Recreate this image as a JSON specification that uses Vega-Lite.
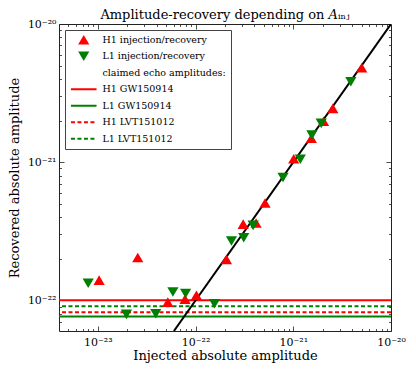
{
  "$schema": "https://vega.github.io/schema/vega-lite/v6.json",
  "width": 332,
  "height": 307,
  "autosize": {"type": "none"},
  "padding": {"left": 59, "top": 24, "right": 25, "bottom": 39},
  "title": {"text": "Amplitude-recovery depending on 𝐴ᵢₙⱼ", "font": "DejaVu Serif", "fontSize": 13, "fontWeight": "normal", "offset": 5, "dy": 9, "color": "#000"},
  "datasets": {
    "points": [
      {"series": "H1 injection/recovery", "inj": 1.03e-23, "rec": 1.40e-22},
      {"series": "H1 injection/recovery", "inj": 2.56e-23, "rec": 2.04e-22},
      {"series": "H1 injection/recovery", "inj": 5.2e-23, "rec": 9.7e-23},
      {"series": "H1 injection/recovery", "inj": 7.8e-23, "rec": 1.02e-22},
      {"series": "H1 injection/recovery", "inj": 1.02e-22, "rec": 1.09e-22},
      {"series": "H1 injection/recovery", "inj": 2.07e-22, "rec": 1.98e-22},
      {"series": "H1 injection/recovery", "inj": 3.07e-22, "rec": 3.56e-22},
      {"series": "H1 injection/recovery", "inj": 4.16e-22, "rec": 3.63e-22},
      {"series": "H1 injection/recovery", "inj": 5.14e-22, "rec": 5.07e-22},
      {"series": "H1 injection/recovery", "inj": 1.01e-21, "rec": 1.06e-21},
      {"series": "H1 injection/recovery", "inj": 1.53e-21, "rec": 1.49e-21},
      {"series": "H1 injection/recovery", "inj": 2.04e-21, "rec": 1.98e-21},
      {"series": "H1 injection/recovery", "inj": 2.54e-21, "rec": 2.45e-21},
      {"series": "H1 injection/recovery", "inj": 5.02e-21, "rec": 4.82e-21},
      {"series": "L1 injection/recovery", "inj": 7.96e-24, "rec": 1.33e-22},
      {"series": "L1 injection/recovery", "inj": 1.96e-23, "rec": 7.92e-23},
      {"series": "L1 injection/recovery", "inj": 3.91e-23, "rec": 8.0e-23},
      {"series": "L1 injection/recovery", "inj": 5.86e-23, "rec": 1.15e-22},
      {"series": "L1 injection/recovery", "inj": 7.9e-23, "rec": 1.12e-22},
      {"series": "L1 injection/recovery", "inj": 1.56e-22, "rec": 9.46e-23},
      {"series": "L1 injection/recovery", "inj": 2.33e-22, "rec": 2.69e-22},
      {"series": "L1 injection/recovery", "inj": 3.11e-22, "rec": 2.84e-22},
      {"series": "L1 injection/recovery", "inj": 3.88e-22, "rec": 3.49e-22},
      {"series": "L1 injection/recovery", "inj": 7.85e-22, "rec": 7.74e-22},
      {"series": "L1 injection/recovery", "inj": 1.18e-21, "rec": 1.05e-21},
      {"series": "L1 injection/recovery", "inj": 1.55e-21, "rec": 1.57e-21},
      {"series": "L1 injection/recovery", "inj": 1.93e-21, "rec": 1.91e-21},
      {"series": "L1 injection/recovery", "inj": 3.88e-21, "rec": 3.82e-21}
    ],
    "claimed": [
      {"series": "H1 GW150914", "amp": 1.0e-22},
      {"series": "L1 GW150914", "amp": 7.65e-23},
      {"series": "H1 LVT151012", "amp": 8.2e-23},
      {"series": "L1 LVT151012", "amp": 9.05e-23}
    ],
    "diag": [{"a": 6e-23}, {"a": 1e-20}]
  },
  "layer": [
    {
      "data": {"name": "claimed"},
      "mark": {"type": "rule", "strokeWidth": 2},
      "encoding": {
        "y": {"field": "amp", "type": "quantitative",
          "scale": {"type": "log", "domain": [6e-23, 1e-20], "nice": false},
          "axis": {"orient": "left", "values": [7e-23, 8e-23, 9e-23, 2e-22, 3e-22, 4e-22, 5e-22, 6e-22, 7e-22, 8e-22, 9e-22, 2e-21, 3e-21, 4e-21, 5e-21, 6e-21, 7e-21, 8e-21, 9e-21], "tickSize": -2.5, "labels": false, "domain": false, "grid": false, "title": null}},
        "stroke": {"field": "series", "type": "nominal", "legend": null,
          "scale": {"domain": ["H1 GW150914", "L1 GW150914", "H1 LVT151012", "L1 LVT151012"],
                    "range": ["#ff0000", "#008000", "#ff0000", "#008000"]}},
        "strokeDash": {"condition": {"test": "indexof(datum.series, 'LVT') >= 0", "value": [4, 2.5]}, "value": [1, 0]}
      }
    },
    {
      "data": {"name": "diag"},
      "mark": {"type": "line", "color": "black", "strokeWidth": 2, "clip": true},
      "encoding": {
        "x": {"field": "a", "type": "quantitative",
          "scale": {"type": "log", "domain": [4e-24, 1e-20], "nice": false},
          "axis": {"orient": "bottom", "values": [1e-23, 1e-22, 1e-21, 1e-20], "tickSize": -5, "labelPadding": 10, "domain": false, "grid": false,
            "labelExpr": "'10' + (datum.value < 5e-23 ? '⁻²³' : datum.value < 5e-22 ? '⁻²²' : datum.value < 5e-21 ? '⁻²¹' : '⁻²⁰')",
            "title": "Injected absolute amplitude", "titlePadding": 2}},
        "y": {"field": "a", "type": "quantitative",
          "scale": {"type": "log", "domain": [6e-23, 1e-20], "nice": false},
          "axis": {"orient": "left", "values": [1e-22, 1e-21, 1e-20], "tickSize": -5, "labelPadding": 8, "domain": false, "grid": false,
            "labelExpr": "'10' + (datum.value < 5e-22 ? '⁻²²' : datum.value < 5e-21 ? '⁻²¹' : '⁻²⁰')",
            "title": "Recovered absolute amplitude", "titlePadding": 6}}
      }
    },
    {
      "data": {"name": "diag"},
      "mark": {"type": "line", "color": "black", "strokeOpacity": 0},
      "encoding": {
        "x": {"field": "a", "type": "quantitative",
          "scale": {"type": "log", "domain": [4e-24, 1e-20], "nice": false},
          "axis": {"orient": "bottom", "values": [5e-24, 6e-24, 7e-24, 8e-24, 9e-24, 2e-23, 3e-23, 4e-23, 5e-23, 6e-23, 7e-23, 8e-23, 9e-23, 2e-22, 3e-22, 4e-22, 5e-22, 6e-22, 7e-22, 8e-22, 9e-22, 2e-21, 3e-21, 4e-21, 5e-21, 6e-21, 7e-21, 8e-21, 9e-21], "tickSize": -2.5, "labels": false, "domain": false, "grid": false, "title": null}},
        "y": {"field": "a", "type": "quantitative",
          "scale": {"type": "log", "domain": [6e-23, 1e-20], "nice": false},
          "axis": {"orient": "right", "values": [7e-23, 8e-23, 9e-23, 2e-22, 3e-22, 4e-22, 5e-22, 6e-22, 7e-22, 8e-22, 9e-22, 2e-21, 3e-21, 4e-21, 5e-21, 6e-21, 7e-21, 8e-21, 9e-21], "tickSize": -2.5, "labels": false, "domain": false, "grid": false, "title": null}}
      }
    },
    {
      "data": {"name": "diag"},
      "mark": {"type": "line", "color": "black", "strokeOpacity": 0},
      "encoding": {
        "x": {"field": "a", "type": "quantitative",
          "scale": {"type": "log", "domain": [4e-24, 1e-20], "nice": false},
          "axis": {"orient": "top", "values": [5e-24, 6e-24, 7e-24, 8e-24, 9e-24, 2e-23, 3e-23, 4e-23, 5e-23, 6e-23, 7e-23, 8e-23, 9e-23, 2e-22, 3e-22, 4e-22, 5e-22, 6e-22, 7e-22, 8e-22, 9e-22, 2e-21, 3e-21, 4e-21, 5e-21, 6e-21, 7e-21, 8e-21, 9e-21], "tickSize": -2.5, "labels": false, "domain": false, "grid": false, "title": null}},
        "y": {"field": "a", "type": "quantitative",
          "scale": {"type": "log", "domain": [6e-23, 1e-20], "nice": false},
          "axis": null}
      }
    },
    {
      "data": {"name": "points"},
      "mark": {"type": "point", "filled": true, "opacity": 1, "size": 16, "strokeWidth": 0},
      "encoding": {
        "x": {"field": "inj", "type": "quantitative",
          "scale": {"type": "log", "domain": [4e-24, 1e-20], "nice": false},
          "axis": {"orient": "top", "values": [1e-23, 1e-22, 1e-21], "tickSize": -5, "labels": false, "domain": false, "grid": false, "title": null}},
        "y": {"field": "rec", "type": "quantitative",
          "scale": {"type": "log", "domain": [6e-23, 1e-20], "nice": false},
          "axis": {"orient": "right", "values": [1e-22, 1e-21], "tickSize": -5, "labels": false, "domain": false, "grid": false, "title": null}},
        "color": {"field": "series", "type": "nominal",
          "scale": {"domain": ["H1 injection/recovery", "L1 injection/recovery", "claimed echo amplitudes:", "H1 GW150914", "L1 GW150914", "H1 LVT151012", "L1 LVT151012"],
                    "range": ["#ff0000", "#008000", "#ffffff", "#ff0000", "#008000", "#ff0000", "#008000"]},
          "legend": {"title": null}},
        "shape": {"field": "series", "type": "nominal",
          "scale": {"domain": ["H1 injection/recovery", "L1 injection/recovery", "claimed echo amplitudes:", "H1 GW150914", "L1 GW150914", "H1 LVT151012", "L1 LVT151012"],
                    "range": ["M0,-2.4L2.8,2.4L-2.8,2.4Z", "M0,2.4L2.8,-2.4L-2.8,-2.4Z", "M0,0L0.01,0Z", "M-6.4,-0.5H6.4V0.5H-6.4Z", "M-6.4,-0.5H6.4V0.5H-6.4Z", "M-6.4,-0.5H-4.4V0.5H-6.4Z M-3.15,-0.5H-1.15V0.5H-3.15Z M0.1,-0.5H2.1V0.5H0.1Z M3.35,-0.5H5.35V0.5H3.35Z", "M-6.4,-0.5H-4.4V0.5H-6.4Z M-3.15,-0.5H-1.15V0.5H-3.15Z M0.1,-0.5H2.1V0.5H0.1Z M3.35,-0.5H5.35V0.5H3.35Z"]},
          "legend": {"title": null}}
      }
    }
  ],
  "resolve": {"axis": {"x": "independent", "y": "independent"}},
  "config": {
    "font": "DejaVu Serif",
    "view": {"stroke": "#222", "strokeWidth": 1},
    "axis": {"labelFont": "DejaVu Serif", "labelFontSize": 11, "labelColor": "#000", "labelFlush": false, "labelOverlap": false,
             "titleFont": "DejaVu Serif", "titleFontSize": 13, "titleFontWeight": "normal", "titleColor": "#000",
             "tickColor": "#222", "tickWidth": 0.8},
    "legend": {"orient": "top-left", "offset": 6, "padding": 5, "strokeColor": "#444", "strokeWidth": 1, "fillColor": "white",
               "symbolSize": 16, "symbolStrokeWidth": 0, "symbolOpacity": 1, "labelFont": "DejaVu Serif", "labelFontSize": 9.5,
               "labelColor": "#000", "rowPadding": 5.5, "labelOffset": 14, "symbolOffset": 9}
  }
}
